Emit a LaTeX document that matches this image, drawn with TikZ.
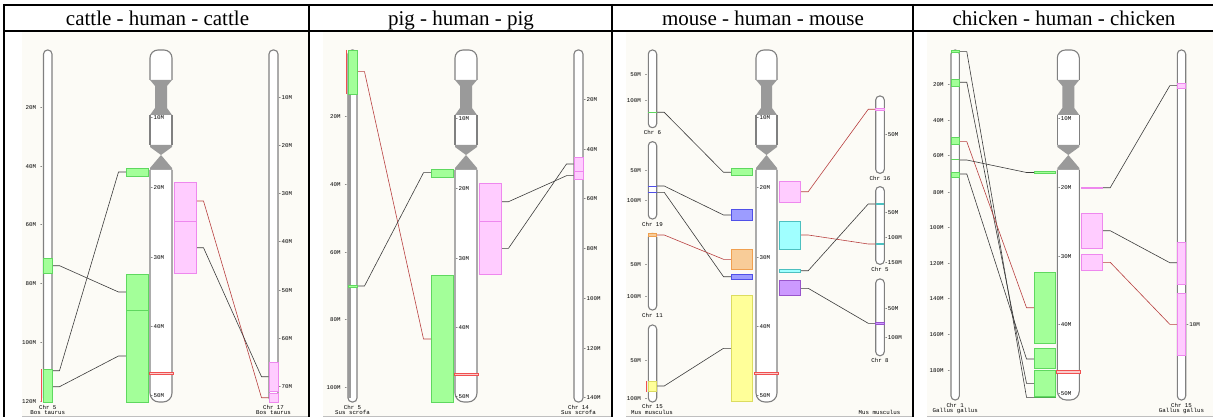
\documentclass[tikz,border=0pt]{standalone}
\usepackage{fontspec}
\setmainfont{Liberation Serif}
\newfontfamily\pixfont{Liberation Mono}
\definecolor{beige}{HTML}{FCFBF6}
\definecolor{chrgray}{HTML}{808080}
\definecolor{bandgray}{HTML}{9A9A9A}
\definecolor{conngray}{HTML}{3C3C3C}
\definecolor{connred}{HTML}{B84040}
\definecolor{gfill}{HTML}{A3FF99}
\definecolor{gline}{HTML}{5FD85F}
\definecolor{pfill}{HTML}{FFCCFF}
\definecolor{pline}{HTML}{EE88EE}
\definecolor{bfill}{HTML}{9C9CFF}
\definecolor{bline}{HTML}{5050E8}
\definecolor{ofill}{HTML}{F8CC98}
\definecolor{oline}{HTML}{F0A050}
\definecolor{yfill}{HTML}{FFFF99}
\definecolor{yline}{HTML}{DCDC60}
\definecolor{cfill}{HTML}{A0FFFF}
\definecolor{cline}{HTML}{4CC0C0}
\definecolor{vfill}{HTML}{CC99FF}
\definecolor{vline}{HTML}{9955CC}
\definecolor{redmark}{HTML}{F05050}
\tikzset{
  chr/.style={draw=chrgray, line width=1.1, fill=white},
  band/.style={fill=bandgray},
  lbl/.style={font=\pixfont\fontsize{5.8}{6}\selectfont, inner sep=0, text=black},
  conn/.style={draw=conngray, line width=0.6},
  rconn/.style={draw=connred, line width=0.6},
  gb/.style={fill=gfill, draw=gline, line width=0.8},
  pb/.style={fill=pfill, draw=pline, line width=0.8},
  bb/.style={fill=bfill, draw=bline, line width=0.8},
  ob/.style={fill=ofill, draw=oline, line width=0.8},
  yb/.style={fill=yfill, draw=yline, line width=0.8},
  cb/.style={fill=cfill, draw=cline, line width=0.8},
  vb/.style={fill=vfill, draw=vline, line width=0.8},
  redbox/.style={draw=redmark, fill=redmark!30, line width=0.8},
  redbar/.style={draw=redmark, line width=1},
  head/.style={font=\fontsize{21}{24}\selectfont, anchor=base, inner sep=0},
  tableline/.style={draw=black, line width=2},
}
% human chromosome: xl, xr, bottom
\newcommand\humchr[3]{%
  \pgfmathsetmacro\hmid{(#1+#2)/2}%
  \draw[chr, rounded corners=8] (#1,80) -- (#1,50) -- (#2,50) -- (#2,80);
  \fill[band] (#1,80) -- (#2,80) -- ({#2-5},86) -- ({#2-5},108) -- (#2,115) -- (#1,115) -- ({#1+5},108) -- ({#1+5},86) -- cycle;
  \fill[white] (#1,115) rectangle (#2,145);
  \draw[chrgray, line width=1.1] (#1,115) -- (#1,145) (#2,115) -- (#2,145);
  \fill[band] (#1,145) -- (#2,145) -- (#2,147) -- (\hmid,155) -- (#1,147) -- cycle;
  \fill[band] (\hmid,155) -- (#2,168) -- (#2,170) -- (#1,170) -- (#1,168) -- cycle;
  \draw[chr, rounded corners=9] (#1,170) -- (#1,#3) -- (#2,#3) -- (#2,170);
}
\newcommand\sidechr[4]{\draw[chr, rounded corners=4] (#1,#3) rectangle (#2,#4);}
\newcommand\lnk[5][conn]{\draw[#1] (#2,#3) -- ++(7.5,0) -- ({#4-7.5},#5) -- (#4,#5);}
\newcommand\ltick[3]{\node[lbl, anchor=east] at ({#1-0.3},#2) {#3 -};}
\newcommand\rtick[3]{\node[lbl, anchor=west] at ({#1},#2) {-#3};}
\begin{document}
\begin{tikzpicture}[x=1pt, y=-1pt]
\useasboundingbox (0,0) rectangle (1213,417);
% backgrounds
\fill[beige] (22,31.5) rectangle (308.5,416.5);
\fill[beige] (323,31.5) rectangle (611.5,416.5);
\fill[beige] (626,31.5) rectangle (912.5,416.5);
\fill[beige] (927,31.5) rectangle (1213,416.5);
\foreach \a/\b in {22/308.5, 323/611.5, 626/912.5, 927/1213}
  \draw[black!25, line width=0.8] (\a,416.4) -- (\b,416.4);
% table
\draw[tableline] (3,5) -- (1213,5);
\draw[tableline, line width=1.8] (3,30.7) -- (1213,30.7);
\draw[tableline] (4,4) -- (4,417);
\foreach \x in {309.3, 612.3, 913.3} \draw[tableline] (\x,4) -- (\x,417);
\node[head] (h1) at (157.5,25.5) {cattle - human - cattle};
\node[head] (h2) at (461,25.5) {pig - human - pig};
\node[head] (h3) at (763,25.5) {mouse - human - mouse};
\node[head] (h4) at (1064,25.5) {chicken - human - chicken};

% ================= CATTLE =================
\lnk{52}{265.7}{126}{292}
\lnk{52}{370.7}{126}{172}
\lnk{52}{386.7}{126}{356}
\lnk[rconn]{196}{201}{269}{397.7}
\lnk{196}{247.7}{269}{376.7}
\sidechr{43.5}{52}{50}{402}
\foreach \t/\y in {20M/108, 40M/167, 60M/225, 80M/284, 100M/343, 120M/402} \ltick{43.5}{\y}{\t}
\draw[gb] (43.5,258) rectangle (52,273);
\draw[gb] (43.5,369) rectangle (52,402);
\draw[redbar] (41,369) -- (41,402);
\humchr{150}{172}{402}
\foreach \t/\y in {10M/118, 20M/188, 30M/258, 40M/327, 50M/396} \rtick{150}{\y}{\t}
\draw[redbox] (149,372) rectangle (173,374.5);
\draw[gb] (126,168) rectangle (148,176);
\draw[gb] (126,274) rectangle (148,310);
\draw[gb] (126,310) rectangle (148,402);
\draw[pb] (174,182) rectangle (196,221);
\draw[pb] (174,221) rectangle (196,273);
\sidechr{269}{278}{50}{402}
\foreach \t/\y in {10M/98, 20M/146, 30M/194, 40M/242, 50M/291, 60M/339, 70M/387} \rtick{278}{\y}{\t}
\draw[pb] (269,362) rectangle (278,391);
\draw[pb] (269,393) rectangle (278,402);
\node[lbl] (c1a) at (47.75,407) {Chr 5};
\node[lbl] (c1b) at (47.75,412.5) {Bos taurus};
\node[lbl] (c1c) at (273.5,407) {Chr 17};
\node[lbl] (c1d) at (273.5,412.5) {Bos taurus};

% ================= PIG =================
\lnk[rconn]{357}{71.7}{431}{339}
\lnk{357}{286}{431}{172.7}
\lnk{501}{201.7}{574}{175.7}
\lnk{501}{248.3}{574}{164}
\sidechr{348}{357}{50}{402}
\fill[bandgray] (348.2,94) rectangle (351,398);
\foreach \t/\y in {20M/117, 40M/185, 60M/253, 80M/320, 100M/388} \ltick{348}{\y}{\t}
\draw[gb] (348,50) rectangle (357,94);
\draw[redbar] (346,50) -- (346,94);
\draw[gb] (348,285) rectangle (357,287.5);
\humchr{455}{477}{402}
\foreach \t/\y in {10M/119, 20M/189, 30M/258.5, 40M/327.5, 50M/396.5} \rtick{455}{\y}{\t}
\draw[redbox] (454,373) rectangle (478,375.5);
\draw[gb] (431,169) rectangle (453,177);
\draw[gb] (431,275) rectangle (453,402);
\draw[pb] (479,183) rectangle (501,274);
\draw[pline, line width=1.3] (479,221.7) -- (501,221.7);
\sidechr{574}{583}{50}{402}
\foreach \t/\y in {20M/100, 40M/150, 60M/199, 80M/249, 100M/299, 120M/349, 140M/398} \rtick{583}{\y}{\t}
\draw[pb] (574,157) rectangle (583,179);
\draw[pline, line width=1.3] (574,171.7) -- (583,171.7);
\node[lbl] (c2a) at (352.5,407) {Chr 5};
\node[lbl] (c2b) at (352.5,412.5) {Sus scrofa};
\node[lbl] (c2c) at (578.5,407) {Chr 14};
\node[lbl] (c2d) at (578.5,412.5) {Sus scrofa};

% ================= MOUSE =================
\lnk{656.7}{112.3}{731}{172.3}
\lnk{656.7}{186}{731}{215}
\lnk{656.7}{192.3}{731}{276.7}
\lnk[rconn]{656.7}{235}{731}{259.3}
\lnk{656.7}{386}{731}{348.3}
\lnk[rconn]{800.7}{191.7}{875.7}{109.3}
\lnk[rconn]{800.7}{235}{875.7}{244}
\lnk{800.7}{270.7}{875.7}{204}
\lnk{800.7}{288.3}{875.7}{323.3}
% left chromosomes
\sidechr{648.3}{656.7}{50}{127.7}
\ltick{648.3}{75}{50M}\ltick{648.3}{101}{100M}
\draw[gline, line width=1.3] (648.3,112.3) -- (656.7,112.3);
\node[lbl] (m1) at (652.5,132.5) {Chr 6};
\sidechr{648.3}{656.7}{141.7}{219}
\ltick{648.3}{171}{50M}\ltick{648.3}{200.7}{100M}
\draw[bline, line width=1] (648.3,186) -- (656.7,186) (648.3,192.3) -- (656.7,192.3);
\node[lbl] (m2) at (652.5,224) {Chr 19};
\sidechr{648.3}{656.7}{233.3}{310}
\ltick{648.3}{264.3}{50M}\ltick{648.3}{296.7}{100M}
\draw[ob] (648.3,233.3) rectangle (656.7,236);
\node[lbl] (m3) at (652.5,315.7) {Chr 11};
\sidechr{648.3}{656.7}{325}{402}
\ltick{648.3}{361}{50M}\ltick{648.3}{398.3}{100M}
\draw[yb] (648.3,381) rectangle (656.7,391);
\draw[redbar] (646,381) -- (646,392);
\node[lbl] (m4) at (652.5,406.7) {Chr 15};
\node[lbl] (m5) at (652,412) {Mus musculus};
% human
\humchr{756}{777}{402}
\foreach \t/\y in {10M/118, 20M/188, 30M/257.7, 40M/326.7, 50M/395.7} \rtick{756}{\y}{\t}
\draw[redbox] (754,372) rectangle (778,374.5);
\draw[gb] (731,168.3) rectangle (752.7,175.7);
\draw[bb] (731,209.3) rectangle (752.7,220.7);
\draw[ob] (731,249.3) rectangle (752.7,269.3);
\draw[bb] (731,274) rectangle (752.7,279.3);
\draw[yb] (731,295.7) rectangle (752.7,401.7);
\draw[pb] (779.3,181.7) rectangle (800.7,202.7);
\draw[cb] (779.3,221.7) rectangle (800.7,249);
\draw[cb] (779.3,269) rectangle (800.7,272.3);
\draw[vb] (779.3,280) rectangle (800.7,295.7);
% right chromosomes
\sidechr{875.7}{884.3}{96}{173.3}
\rtick{884.3}{135}{50M}
\draw[pb] (875.7,108) rectangle (884.3,110.6);
\node[lbl] (m6) at (880,178.3) {Chr 16};
\sidechr{875.7}{884.3}{186.7}{264.3}
\rtick{884.3}{212.3}{50M}\rtick{884.3}{237.7}{100M}\rtick{884.3}{262.7}{150M}
\draw[cline, line width=1.3] (875.7,204) -- (884.3,204) (875.7,244) -- (884.3,244);
\node[lbl] (m7) at (880,269.3) {Chr 5};
\sidechr{875.7}{884.3}{279}{355.7}
\rtick{884.3}{308.3}{50M}\rtick{884.3}{337.7}{100M}
\draw[vb] (875.7,322.3) rectangle (884.3,324.3);
\node[lbl] (m8) at (880,360.7) {Chr 8};
\node[lbl] (m9) at (879.5,412) {Mus musculus};

% ================= CHICKEN =================
\lnk{959.3}{51.7}{1034}{397.3}
\lnk{959.3}{82.3}{1034}{383.3}
\lnk[rconn]{959.3}{141.7}{1034}{307.7}
\lnk{959.3}{160}{1034}{172.5}
\lnk{959.3}{174}{1034}{359}
\lnk{1102.7}{187.7}{1177.3}{85.7}
\lnk{1102.7}{230.7}{1177.3}{262.7}
\lnk[rconn]{1102.7}{262.3}{1177.3}{324.3}
\sidechr{951}{959.3}{50}{400}
\foreach \t/\y in {20M/85, 40M/120.7, 60M/156, 80M/192.3, 100M/227.7, 120M/263.3, 140M/299, 160M/335, 180M/370.7} \ltick{951}{\y}{\t}
\draw[gb] (951,50) rectangle (959.3,52.5);
\draw[gb] (951,79) rectangle (959.3,86.7);
\draw[gb] (951,137.3) rectangle (959.3,144.3);
\draw[gline, line width=1] (951,160) -- (959.3,160);
\draw[gb] (951,172.3) rectangle (959.3,177.3);
\humchr{1057.3}{1079.3}{400}
\foreach \t/\y in {10M/118.3, 20M/187.7, 30M/256.7, 40M/325, 50M/393.3} \rtick{1057.3}{\y}{\t}
\draw[redbox] (1056,370.5) rectangle (1080.7,373);
\draw[gb] (1034,171.5) rectangle (1055.7,173.5);
\draw[gb] (1034,272.3) rectangle (1055.7,343.3);
\draw[gb] (1034,348.3) rectangle (1055.7,368.3);
\draw[gb] (1034,370.7) rectangle (1055.7,396.5);
\draw[gline!80!black, line width=1.2] (1034,397.3) -- (1055.7,397.3);
\draw[pb] (1081.3,187) rectangle (1102.7,188.5);
\draw[pb] (1081.3,213.3) rectangle (1102.7,248.3);
\draw[pb] (1081.3,254) rectangle (1102.7,270);
\sidechr{1177.3}{1185.7}{50}{400}
\rtick{1185.7}{325}{10M}
\draw[pb] (1177.3,83.3) rectangle (1185.7,88.3);
\draw[pb] (1177.3,242.3) rectangle (1185.7,284);
\draw[pb] (1177.3,293.3) rectangle (1185.7,355.7);
\node[lbl] (k1) at (955.2,405) {Chr 1};
\node[lbl] (k2) at (955.2,410.5) {Gallus gallus};
\node[lbl] (k3) at (1181.5,405) {Chr 15};
\node[lbl] (k4) at (1181.5,410.5) {Gallus gallus};
\end{tikzpicture}
\end{document}
